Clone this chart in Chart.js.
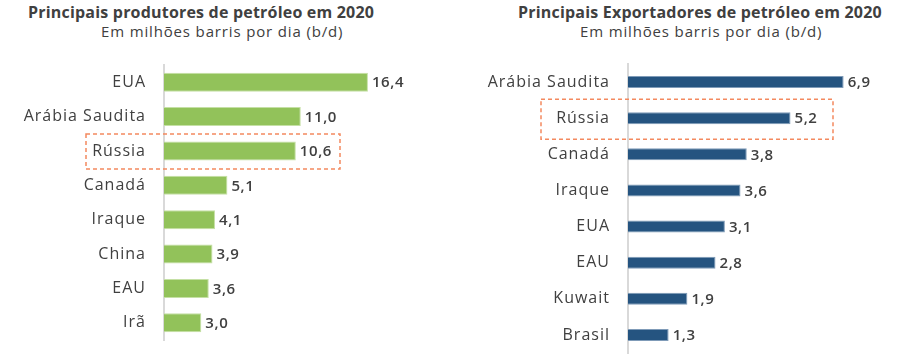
<!DOCTYPE html>
<html>
<head>
<meta charset="utf-8">
<script src="https://cdn.jsdelivr.net/npm/chart.js@4.4.0/dist/chart.umd.min.js"></script>
<style>
  body{margin:0;background:#fff;width:903px;height:361px;overflow:hidden;position:relative;font-family:"Open Sans",sans-serif;color:#404040}
  .tit{position:absolute;font-weight:bold;font-size:16px;letter-spacing:0.2px;white-space:nowrap}
  .sub{position:absolute;font-size:15px;letter-spacing:0.85px;white-space:nowrap}
  .box{position:absolute}
</style>
</head>
<body>
<div class="tit" style="left:28px;top:1px">Principais produtores de petróleo em 2020</div>
<div class="sub" style="left:101px;top:21px">Em milhões barris por dia (b/d)</div>
<div class="tit" style="left:518px;top:1px">Principais Exportadores de petróleo em 2020</div>
<div class="sub" style="left:580px;top:21px">Em milhões barris por dia (b/d)</div>

<div class="box" style="left:0;top:50px;width:450px;height:311px"><canvas id="graf_prod"></canvas></div>
<div class="box" style="left:450px;top:50px;width:453px;height:311px"><canvas id="graf_exp"></canvas></div>

<script>
// dados
const paises_prod = ['EUA','Arábia Saudita','Rússia','Canadá','Iraque','China','EAU','Irã'];
const valores_prod = [16.4, 11.0, 10.6, 5.1, 4.1, 3.9, 3.6, 3.0];

const paises_exp = ['Arábia Saudita','Rússia','Canadá','Iraque','EUA','EAU','Kuwait','Brasil'];
const valores_exp = [6.9, 5.2, 3.8, 3.6, 3.1, 2.8, 1.9, 1.3];

const destaque = 'Rússia';

// espacamento das letras, como no original
const espaco = {
  id: 'espaco',
  beforeDraw(chart){ chart.ctx.letterSpacing = '1px'; }
};

// rotulo com virgula na ponta da barra
const rotulos = {
  id: 'rotulos',
  afterDatasetsDraw(chart){
    const ctx = chart.ctx;
    const meta = chart.getDatasetMeta(0);
    ctx.save();
    ctx.font = '600 15px "Open Sans"';
    ctx.letterSpacing = '0.6px';
    ctx.fillStyle = '#404040';
    ctx.textBaseline = 'middle';
    meta.data.forEach((bar, i) => {
      let v = chart.data.datasets[0].data[i];
      ctx.fillText(v.toFixed(1).replace('.', ','), bar.x + 4, bar.y + 1);
    });
    ctx.restore();
  }
};

// caixa tracejada em volta da Russia
const caixa = {
  id: 'caixa',
  afterDraw(chart, args, opts){
    const idx = chart.data.labels.indexOf(destaque);
    if(idx < 0) return;
    const y = chart.scales.y.getPixelForValue(idx);
    const ctx = chart.ctx;
    ctx.save();
    ctx.strokeStyle = '#F4895F';
    ctx.lineWidth = 1.5;
    ctx.setLineDash([4, 3]);
    ctx.strokeRect(opts.x1, y + opts.dy1, opts.x2 - opts.x1, opts.dy2 - opts.dy1);
    ctx.restore();
  }
};

function grafica_barras(id, labels, data, cor, borda, eixoLargura, xmax, espessura, padBaixo, padTopo, box){
  return new Chart(document.getElementById(id), {
    type: 'bar',
    data: {
      labels: labels,
      datasets: [{
        data: data,
        backgroundColor: cor,
        borderColor: borda,
        borderWidth: 1,
        barPercentage: espessura,
        categoryPercentage: 1
      }]
    },
    options: {
      indexAxis: 'y',
      responsive: true,
      maintainAspectRatio: false,
      animation: false,
      layout: { padding: { top: padTopo, bottom: padBaixo, right: 0 } },
      plugins: {
        legend: { display: false },
        tooltip: { enabled: false },
        caixa: box
      },
      scales: {
        x: { display: false, min: 0, max: xmax },
        y: {
          afterFit(scale){
            scale.width = eixoLargura;
            scale.paddingTop = 0;
            scale.paddingBottom = 0;
          },
          grid: { display: false, drawTicks: false },
          border: { display: true, color: '#d9d9d9', width: 2 },
          ticks: {
            padding: 18,
            color: '#404040',
            font: { family: '"Open Sans"', size: 16 }
          }
        }
      }
    },
    plugins: [espaco, rotulos, caixa]
  });
}

grafica_barras('graf_prod', paises_prod, valores_prod, '#92C25A', '#C5E0A5', 164, 23, 0.55, 21, 15,
  { x1: 86, x2: 340, dy1: -17, dy2: 18 });
grafica_barras('graf_exp', paises_exp, valores_exp, '#255480', '#7F9BB8', 178, 8.8, 0.33, 8, 14,
  { x1: 91, x2: 383, dy1: -19, dy2: 21 });
</script>
</body>
</html>
